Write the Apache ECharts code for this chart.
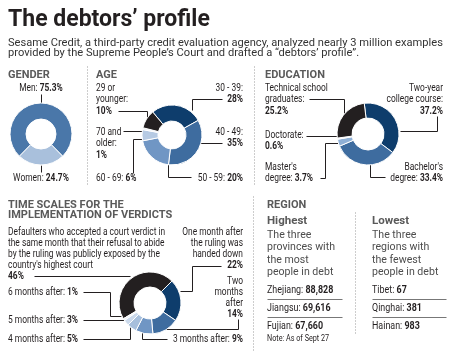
<!DOCTYPE html>
<html><head><meta charset="utf-8">
<script src="https://cdn.jsdelivr.net/npm/echarts@6/dist/echarts.min.js"></script>
<style>html,body{margin:0;padding:0;background:#fff}#c{width:455px;height:353px}</style>
</head><body><div id="c"></div>
<script>
// ---------- DATA ----------
const genderCats = ['Women', 'Men'];
const genderVals = [24.7, 75.3];
const ageCats = ['30 - 39', '40 - 49', '50 - 59', '60 - 69', '70 and\nolder', '29 or\nyounger'];
const ageVals = [28, 35, 20, 6, 1, 10];
const eduCats = ['Two-year\ncollege course', "Bachelor's\ndegree", "Master's\ndegree", 'Doctorate', 'Technical school\ngraduates'];
const eduVals = [37.2, 33.4, 3.7, 0.6, 25.2];
const timeCats = [
  "Defaulters who accepted a court verdict in\nthe same month that their refusal to abide\nby the ruling was publicly exposed by the\ncountry's highest court",
  'One month after\nthe ruling was\nhanded down',
  'Two\nmonths\nafter',
  '3 months after', '4 months after', '5 months after', '6 months after'];
const timeVals = [46, 22, 14, 9, 5, 3, 1];
const highCats = ['Zhejiang', 'Jiangsu', 'Fujian'];
const highVals = [88828, 69616, 67660];
const lowCats = ['Tibet', 'Qinghai', 'Hainan'];
const lowVals = [67, 381, 983];

// ---------- STYLES ----------
const INK = '#231f20', GREY = '#5a5a5a';
const genderColors = ['#a9c0dc', '#4a77a9'];
const ageColors = ['#0e3d6c', '#3e6c9f', '#7096c4', '#b6cae3', '#e8eef6', '#231f20'];
const eduColors = ['#0e3d6c', '#3e6c9f', '#8fb0d6', '#e3ebf5', '#231f20'];
const timeColors = ['#231f20', '#0e3d6c', '#3e6c9f', '#7096c4', '#a7bfdc', '#cbd9eb', '#eef2f8'];

function donut(cats, vals, colors, center, r0, r1, startAngle) {
  return {
    type: 'pie', center: center, radius: [r0, r1], startAngle: startAngle, clockwise: true,
    silent: true, avoidLabelOverlap: false, label: {show: false}, labelLine: {show: false},
    emphasis: {disabled: true}, animation: false,
    itemStyle: {borderColor: '#fff', borderWidth: 1},
    data: cats.map((c, i) => ({name: c.replace(/\n/g, ' '), value: vals[i], itemStyle: {color: colors[i]}}))
  };
}

function lab(cat, val, mode) {
  const ls = cat.split('\n');
  const v = '{b|' + val + '%}';
  if (mode === 'inline') ls[ls.length - 1] += ': ' + v;
  else if (mode === 'colon') { ls[ls.length - 1] += ':'; ls.push(v); }
  else ls.push(v);
  return ls;
}
function txt(x, y, s, o) {
  o = o || {};
  const size = o.size || 10, fill = o.fill || INK;
  return {type: 'text', x: x, y: y, scaleX: o.sx || 1, silent: true,
    style: {text: s, x: 0, y: 0, align: o.align || 'left', verticalAlign: 'middle', fill: fill,
      fontFamily: 'Roboto', fontSize: size, fontWeight: o.weight || 'normal',
      rich: {b: {fontWeight: 'bold', fontSize: size, fontFamily: 'Roboto', fill: fill}}}};
}
function block(x, y0, dy, lines, o) { return lines.map((l, i) => txt(x, y0 + i * dy, l, o)); }
function pl(pts, o) {
  return {type: 'polyline', silent: true, shape: {points: pts.map(p => [p[0] + 0.5, p[1] + 0.5])},
    style: {stroke: (o && o.stroke) || INK, lineWidth: 1, fill: null, lineDash: (o && o.dash) || null}};
}
const dots = {stroke: '#9a9a9a', dash: [1, 2]};
const SX = 0.84;
const L = {size: 10, sx: SX};
const LR = {size: 10, sx: SX, align: 'right'};
const LC = {size: 10, sx: SX, align: 'center'};
const H = {size: 11, weight: 'bold', fill: GREY};
const fmt = n => n.toLocaleString('en-US');

const g = [];
// title
g.push(txt(8, 20, 'The debtors\u2019 profile', {size: 23, weight: 'bold'}));
g.push(...block(8, 43, 10.5, ['Sesame Credit, a third-party credit evaluation agency, analyzed nearly 3 million examples',
  'provided by the Supreme People\u2019s Court and drafted a \u201cdebtors\u2019 profile\u201d.'], {size: 11, sx: 1.01, fill: '#333'}));
// separators
g.push(pl([[87, 66], [87, 184]], dots), pl([[254, 66], [254, 184]], dots), pl([[253, 196], [253, 350]], dots), pl([[355, 212], [355, 334]], dots));
// headings
g.push(txt(8, 75, 'GENDER', H), txt(96, 75, 'AGE', H), txt(265, 75, 'EDUCATION', H));
// gender
g.push(txt(41, 88, lab(genderCats[1], genderVals[1], 'inline')[0], LC), pl([[41, 94], [41, 104]]));
g.push(txt(41, 178, lab(genderCats[0], genderVals[0], 'inline')[0], LC), pl([[41, 165], [41, 172]]));
// age
g.push(...block(96, 88, 11.5, lab(ageCats[5], ageVals[5], 'colon'), L), pl([[118, 111], [147, 111], [147, 121]]));
g.push(...block(96, 132, 11.5, lab(ageCats[4], ageVals[4], 'colon'), L), pl([[123, 131], [143, 131]]));
g.push(txt(96, 178, lab(ageCats[3], ageVals[3], 'inline')[0], L), pl([[133, 173], [133, 139], [145, 139]]));
g.push(...block(243, 88, 11.5, lab(ageCats[0], ageVals[0], 'colon'), LR), pl([[222, 99], [192, 99], [192, 110]]));
g.push(...block(243, 132, 11.5, lab(ageCats[1], ageVals[1], 'colon'), LR), pl([[222, 143], [200, 143]]));
g.push(txt(243, 178, lab(ageCats[2], ageVals[2], 'inline')[0], LR), pl([[191, 177], [168, 177], [168, 163]]));
// education
g.push(...block(265, 88, 11.5, lab(eduCats[4], eduVals[4], 'colon'), L), pl([[309, 99], [344, 99], [344, 113]]));
g.push(...block(265, 135, 11.5, lab(eduCats[3], eduVals[3], 'colon'), L), pl([[306, 136], [339, 136]]));
g.push(...block(265, 167, 11.5, lab(eduCats[2], eduVals[2], 'inline'), L), pl([[320, 178], [325, 178], [325, 143], [340, 143]]));
g.push(...block(443, 88, 11.5, lab(eduCats[0], eduVals[0], 'colon'), LR), pl([[437, 116], [437, 131], [400, 131]]));
g.push(...block(443, 167, 11.5, lab(eduCats[1], eduVals[1], 'inline'), LR), pl([[385, 177], [370, 177], [370, 164]]));
// time scales
g.push(...block(8, 205, 10.5, ['TIME SCALES FOR THE', 'IMPLEMENTATION OF VERDICTS'], H));
g.push(...block(8, 232, 11, lab(timeCats[0], timeVals[0], 'plain'), L), pl([[34, 276], [130, 276]]));
g.push(...block(243, 232, 11, lab(timeCats[1], timeVals[1], 'plain'), LR), pl([[221, 266], [192, 266], [192, 291], [180, 291]]));
g.push(...block(243, 281, 11, lab(timeCats[2], timeVals[2], 'plain'), LR), pl([[238, 319], [238, 329], [163, 329]]));
g.push(txt(8, 292, lab(timeCats[6], timeVals[6], 'inline')[0], L), pl([[83, 292], [110, 292], [110, 316], [121, 316]]));
g.push(txt(8, 320, lab(timeCats[5], timeVals[5], 'inline')[0], L), pl([[83, 320], [124, 320]]));
g.push(txt(8, 339, lab(timeCats[4], timeVals[4], 'inline')[0], L), pl([[83, 339], [130, 339], [130, 327]]));
g.push(txt(243, 339, lab(timeCats[3], timeVals[3], 'inline')[0], LR), pl([[167, 339], [142, 339], [142, 332]]));
// region
g.push(txt(267, 205, 'REGION', H), txt(267, 221, 'Highest', {size: 11.5, weight: 'bold', fill: GREY}), txt(372, 221, 'Lowest', {size: 11.5, weight: 'bold', fill: GREY}));
const P = {size: 11.5, sx: 0.92, fill: '#4d4d4d'};
g.push(...block(267, 235, 12.4, ['The three', 'provinces with', 'the most', 'people in debt'], P));
g.push(...block(372, 235, 12.4, ['The three', 'regions with', 'the fewest', 'people in debt'], P));
const R = {size: 10.5, sx: 0.85};
highCats.forEach((c, i) => g.push(txt(267, 290 + i * 18, c + ': {b|' + fmt(highVals[i]) + '}', R)));
lowCats.forEach((c, i) => g.push(txt(372, 290 + i * 18, c + ': {b|' + fmt(lowVals[i]) + '}', R)));
[299, 317].forEach(y => g.push(pl([[267, y], [342, y]], {stroke: '#777'}), pl([[372, y], [446, y]], {stroke: '#777'})));
g.push(txt(267, 339, 'Note: As of Sept 27', {size: 8.5, sx: 0.85}));

const chart = echarts.init(document.getElementById('c'), null, {renderer: 'canvas'});
chart.setOption({
  animation: false,
  backgroundColor: '#fff',
  series: [
    donut(genderCats, genderVals, genderColors, [41, 134], 15, 31, 314.5),
    donut(ageCats, ageVals, ageColors, [172, 135], 14, 30, 130),
    donut(eduCats, eduVals, eduColors, [368, 134], 16, 31, 97),
    donut(timeCats, timeVals, timeColors, [150, 303], 16, 31, 210.6)
  ],
  graphic: {elements: g}
});
</script></body></html>
